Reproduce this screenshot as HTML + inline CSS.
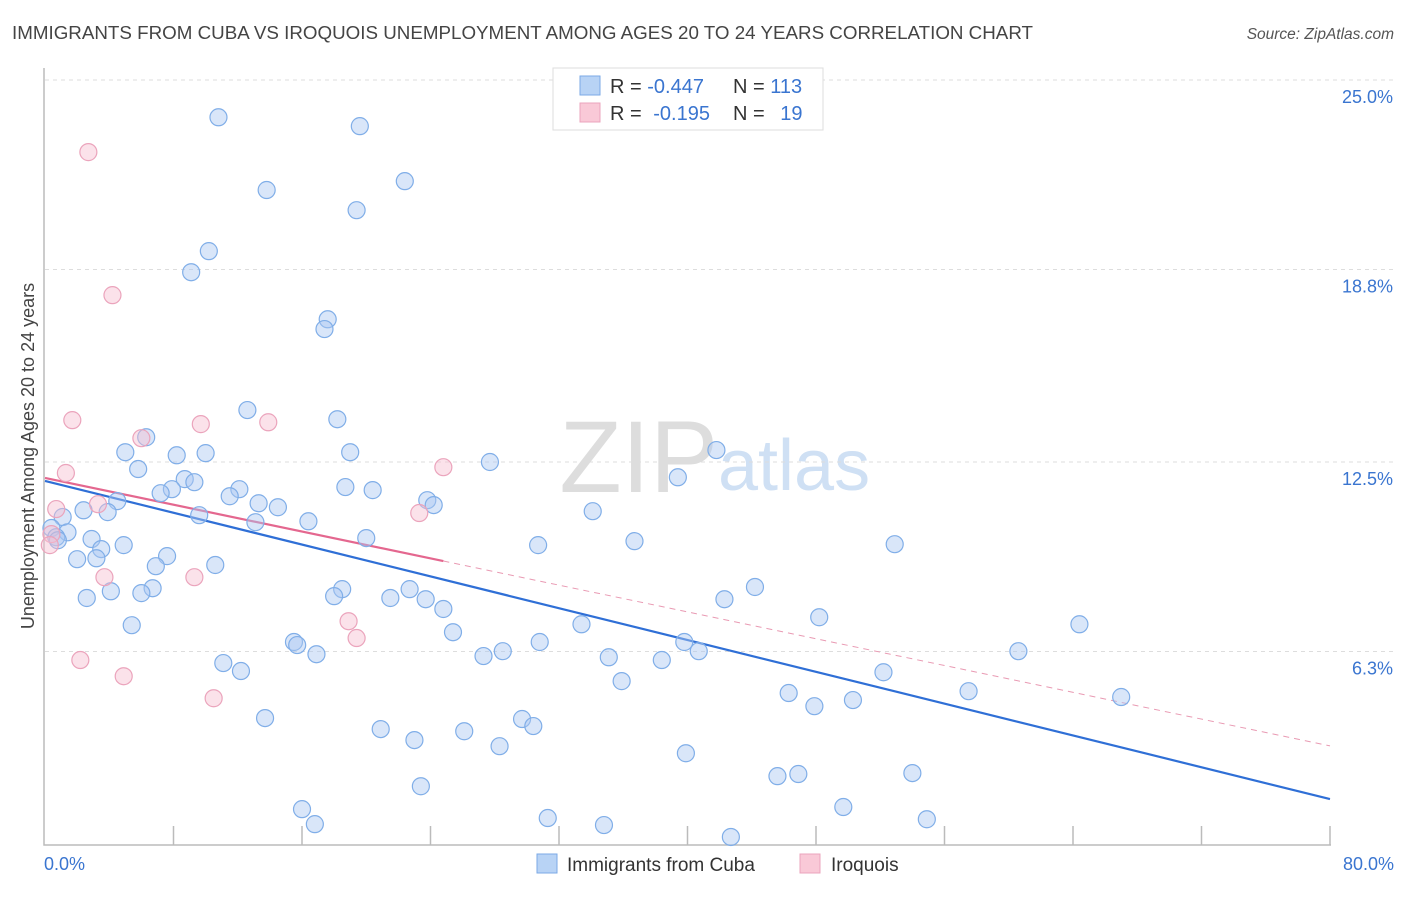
<!DOCTYPE html>
<html><head><meta charset="utf-8"><style>
body{margin:0;background:#fff;width:1406px;height:892px;overflow:hidden;font-family:"Liberation Sans",sans-serif}
svg text{font-family:"Liberation Sans",sans-serif}
</style></head><body>
<svg id="chart" width="1406" height="892">
<text x="12" y="39" font-size="18.5" fill="#444" textLength="1021" lengthAdjust="spacingAndGlyphs">IMMIGRANTS FROM CUBA VS IROQUOIS UNEMPLOYMENT AMONG AGES 20 TO 24 YEARS CORRELATION CHART</text>
<text x="1394" y="39" font-size="15.5" fill="#555" font-style="italic" text-anchor="end">Source: ZipAtlas.com</text>
<text x="718" y="492" font-size="102" fill="#ddd" text-anchor="end" font-family="Liberation Serif">ZIP</text>
<text x="718" y="490" font-size="72" fill="#cfe0f4">atlas</text>
<g id="grid"></g><g id="axes"></g><g id="trend"></g><g id="pts"></g>
<text transform="translate(34,456) rotate(-90)" font-size="18" fill="#444" text-anchor="middle">Unemployment Among Ages 20 to 24 years</text>
<g>
<rect x="553" y="68" width="270" height="62" fill="#fff" stroke="#ddd"/>
<rect x="580" y="76" width="20" height="19" fill="#b8d3f5" stroke="#7baae6"/>
<rect x="580" y="103" width="20" height="19" fill="#f9c9d7" stroke="#eba4bc"/>
<text x="610" y="93" font-size="20" fill="#333">R = <tspan fill="#3a75d0">-0.447</tspan></text>
<text x="733" y="93" font-size="20" fill="#333">N = <tspan fill="#3a75d0">113</tspan></text>
<text x="610" y="120" font-size="20" fill="#333">R = <tspan fill="#3a75d0" dx="6">-0.195</tspan></text>
<text x="733" y="120" font-size="20" fill="#333">N = <tspan fill="#3a75d0" dx="10">19</tspan></text>
</g>
<g>
<rect x="537" y="854" width="20" height="19" fill="#b8d3f5" stroke="#7baae6"/>
<text x="567" y="871" font-size="19" fill="#333">Immigrants from Cuba</text>
<rect x="800" y="854" width="20" height="19" fill="#f9c9d7" stroke="#eba4bc"/>
<text x="831" y="871" font-size="19" fill="#333">Iroquois</text>
</g>
</svg>
<script>
const blueX=[10.8,19.6,13.8,22.4,19.4,10.2,9.1,17.6,17.4,12.6,18.2,6.3,5.0,8.2,10.0,19.0,27.7,41.8,39.4,5.8,8.7,9.3,7.9,7.2,12.1,11.5,18.7,20.4,23.8,24.2,13.3,14.5,4.5,3.9,9.6,2.4,1.1,13.1,16.4,34.1,0.4,1.4,0.7,0.8,20.0,2.9,4.9,3.5,30.7,36.7,52.9,7.6,2.0,3.2,10.6,6.9,6.7,6.0,4.1,2.6,18.5,18.0,22.7,21.5,23.7,24.8,42.3,44.2,5.4,25.4,33.4,48.2,64.4,15.5,15.7,16.9,28.5,30.8,27.3,35.1,38.4,39.8,40.7,60.6,11.1,12.2,35.9,52.2,57.5,67.0,46.3,47.9,50.3,13.7,20.9,23.0,26.1,29.7,30.4,28.3,39.9,45.6,46.9,54.0,23.4,16.0,16.8,31.3,34.8,42.7,49.7,54.9];
const blueY=[23.78,23.49,21.40,21.69,20.74,19.40,18.71,17.17,16.85,14.20,13.90,13.31,12.82,12.72,12.79,12.82,12.50,12.89,12.00,12.27,11.94,11.84,11.61,11.48,11.61,11.38,11.68,11.58,11.25,11.09,11.15,11.02,11.22,10.86,10.76,10.92,10.70,10.53,10.56,10.89,10.34,10.20,10.04,9.94,10.01,9.98,9.78,9.65,9.78,9.91,9.81,9.42,9.32,9.35,9.13,9.09,8.37,8.21,8.27,8.05,8.34,8.11,8.34,8.05,8.01,7.69,8.01,8.41,7.16,6.93,7.19,7.42,7.19,6.61,6.51,6.21,6.31,6.61,6.15,6.11,6.02,6.61,6.31,6.31,5.92,5.66,5.33,5.62,5.00,4.81,4.94,4.51,4.71,4.12,3.76,3.40,3.69,4.09,3.86,3.20,2.97,2.22,2.29,2.32,1.89,1.14,0.65,0.85,0.62,0.23,1.21,0.81];
const pinkX=[2.7,4.2,1.7,9.7,13.9,6.0,1.3,24.8,0.7,3.3,23.3,0.4,0.3,3.7,9.3,18.9,19.4,2.2,4.9,10.5];
const pinkY=[22.64,17.96,13.87,13.74,13.80,13.28,12.14,12.33,10.96,11.12,10.83,10.14,9.78,8.73,8.73,7.29,6.74,6.02,5.49,4.77];
const yTicks=[25.0,18.8,12.5,6.3];
const yTickLabels=["25.0%","18.8%","12.5%","6.3%"];
const blueTrend=[0,11.88,80,1.47];
const pinkTrend=[0,11.98,24.8,9.26,80,3.21];
const NS="http://www.w3.org/2000/svg";
const X=v=>45+v/80*1285, Y=v=>844-v/25*764;
function mk(t,a,p){const e=document.createElementNS(NS,t);for(const k in a)e.setAttribute(k,a[k]);p.appendChild(e);return e;}
const grid=document.getElementById('grid'),axes=document.getElementById('axes'),tr=document.getElementById('trend'),pts=document.getElementById('pts');
yTicks.forEach((t,i)=>{const l=mk('line',{x1:45,x2:1394,y1:Y(t),y2:Y(t),stroke:'#ddd','stroke-dasharray':'4,4'},grid);


const tx=mk('text',{x:1393,y:Y(t)+23,'font-size':18,fill:'#3a75d0','text-anchor':'end'},grid);tx.textContent=yTickLabels[i];

});
const ax=mk('path',{d:'M44,68 V845 H1331',stroke:'#bbb',fill:'none','stroke-width':1.5},axes);


for(let v=8;v<=80;v+=8){const t=mk('line',{x1:X(v),x2:X(v),y1:826,y2:845,stroke:'#bbb','stroke-width':1.5},axes);

}
[[0,'0.0%','start',44],[80,'80.0%','end',1394]].forEach(a=>{const t=mk('text',{x:a[3],y:870,'font-size':18,fill:'#3a75d0','text-anchor':a[2]},axes);t.textContent=a[1];

});
function dot(x,y,f,s,n){const c=mk('circle',{cx:X(x),cy:Y(y),r:8.5,fill:f,stroke:s,'stroke-width':1.2},pts);

}
blueX.forEach((x,i)=>dot(x,blueY[i],'rgba(170,200,242,0.45)','#80aee8','point-cuba'));
pinkX.forEach((x,i)=>dot(x,pinkY[i],'rgba(247,190,208,0.45)','#eba4bc','point-iroquois'));
const bl=mk('line',{x1:X(blueTrend[0]),y1:Y(blueTrend[1]),x2:X(blueTrend[2]),y2:Y(blueTrend[3]),stroke:'#2f6fd6','stroke-width':2.2},tr);


const ps=mk('line',{x1:X(pinkTrend[0]),y1:Y(pinkTrend[1]),x2:X(pinkTrend[2]),y2:Y(pinkTrend[3]),stroke:'#e4678f','stroke-width':2.2},tr);


const pd=mk('line',{x1:X(pinkTrend[2]),y1:Y(pinkTrend[3]),x2:X(pinkTrend[4]),y2:Y(pinkTrend[5]),stroke:'#e99ab3','stroke-width':1,'stroke-dasharray':'6,5'},tr);


</script>
</body></html>
